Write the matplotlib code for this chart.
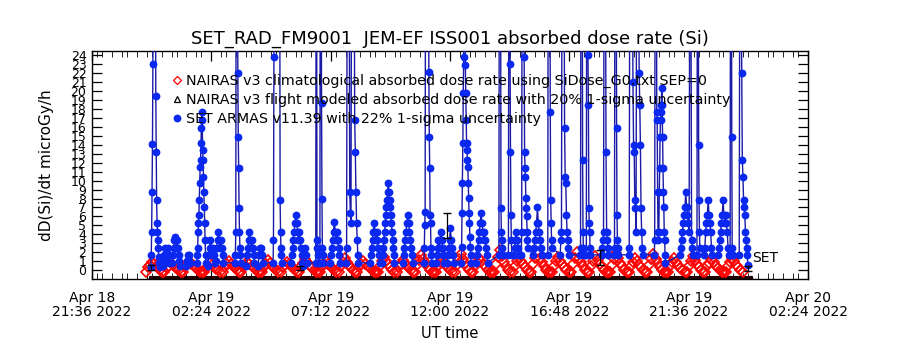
import numpy as np
import matplotlib
matplotlib.use("Agg")
import matplotlib.pyplot as plt
import matplotlib.dates as mdates
from matplotlib.lines import Line2D

T0 = np.datetime64("2022-04-18T21:36")

# x axis: tick times (minutes after T0) and labels
tick_min = [0, 288, 576, 864, 1152, 1440, 1728]
tick_labels = ["Apr 18\n21:36 2022", "Apr 19\n02:24 2022", "Apr 19\n07:12 2022",
               "Apr 19\n12:00 2022", "Apr 19\n16:48 2022", "Apr 19\n21:36 2022",
               "Apr 20\n02:24 2022"]

# NAIRAS climatological dose rate, 5-minute cadence starting at red_start
red_start = 130
red_dt = 5
red_vals = [
    -0.2, 0.3, 0.6, 0.9, 0.65, 0.4, 0.2, 0.0, -0.2,
    -0.2, 0.25, 0.5, 0.8, 0.55, 0.35, 0.15, 0.0, -0.2,
    -0.2, 0.3, 0.65, 1.0, 0.7, 0.45, 0.25, 0.0, -0.2, -0.2,
    -0.2, 0.25, 0.5, 0.8, 0.55, 0.35, 0.15, 0.0, -0.2,
    -0.2, 0.3, 0.65, 1.0, 0.7, 0.45, 0.2, 0.0, -0.2,
    -0.2, 0.3, 0.6, 0.9, 0.65, 0.4, 0.2, 0.0, -0.2, -0.2,
    -0.2, 0.35, 0.7, 1.1, 0.75, 0.45, 0.2, 0.0, -0.2,
    -0.2, 0.3, 0.6, 0.9, 0.65, 0.4, 0.2, 0.0, -0.2,
    -0.2, 0.4, 0.8, 1.2, 0.85, 0.5, 0.25, 0.0, -0.2, -0.2,
    -0.2, 0.3, 0.65, 1.0, 0.7, 0.45, 0.2, 0.0, -0.2,
    -0.2, 0.4, 0.85, 1.3, 0.9, 0.55, 0.25, 0.0, -0.2,
    -0.2, 0.3, 0.65, 1.0, 0.7, 0.45, 0.25, 0.0, -0.2, -0.2,
    -0.2, 0.5, 1.0, 1.5, 1.05, 0.65, 0.3, 0.0, -0.2,
    -0.2, 0.35, 0.7, 1.1, 0.75, 0.45, 0.2, 0.0, -0.2,
    -0.2, 0.55, 1.1, 1.7, 1.2, 0.75, 0.35, 0.05, -0.2, -0.2,
    -0.2, 0.4, 0.85, 1.3, 0.9, 0.55, 0.25, 0.0, -0.2,
    -0.2, 0.6, 1.2, 1.8, 1.25, 0.8, 0.35, 0.05, -0.2,
    -0.2, 0.45, 0.9, 1.4, 1.0, 0.6, 0.3, 0.0, -0.2, -0.2,
    -0.2, 0.7, 1.45, 2.2, 1.55, 0.95, 0.45, 0.05, -0.2,
    -0.2, 0.5, 1.0, 1.5, 1.05, 0.65, 0.3, 0.0, -0.2,
    -0.2, 0.65, 1.3, 2.0, 1.4, 0.85, 0.4, 0.05, -0.2, -0.2,
    -0.2, 0.5, 1.0, 1.5, 1.05, 0.65, 0.3, 0.0, -0.2,
    -0.2, 0.65, 1.3, 2.0, 1.4, 0.85, 0.4, 0.05, -0.2,
    -0.2, 0.5, 1.05, 1.6, 1.1, 0.7, 0.3, 0.0, -0.2, -0.2,
    -0.2, 0.6, 1.25, 1.9, 1.35, 0.8, 0.4, 0.05, -0.2,
    -0.2, 0.45, 0.9, 1.4, 1.0, 0.6, 0.3, 0.0, -0.2,
    -0.2, 0.6, 1.2, 1.8, 1.25, 0.8, 0.35, 0.05, -0.2, -0.2,
    -0.2, 0.4, 0.85, 1.3, 0.9, 0.55, 0.25, 0.0, -0.2,
    -0.2, 0.5, 1.05, 1.6, 1.1, 0.7, 0.3, 0.0, -0.2,
    -0.2, 0.4, 0.8, 1.2, 0.85, 0.5, 0.25, 0.0, -0.2, -0.2,
    -0.2, 0.45, 0.9, 1.4, 1.0, 0.6, 0.3, 0.0, -0.2,
]

# NAIRAS flight-modeled dose rate (sits on the bottom of the plot)
black_min = [140, 240, 340, 440, 540, 640, 740, 840, 940, 1040,
             1140, 1240, 1340, 1440, 1540, 1590]
black_vals = [-0.8, -0.8, -0.8, -0.8, -0.8, -0.8, -0.8, -0.8, -0.8, -0.8,
              -0.8, -0.8, -0.8, -0.8, -0.8, -0.8]

# SET ARMAS dose rate: bursts of samples, (start minute, cadence, values)
blue_seg_start = [142, 171, 193, 227, 253, 280, 299, 345, 372, 401,
                  437, 480, 510, 540, 550, 575, 613, 671, 700, 750,
                  801, 830, 857, 891, 927, 982, 1005, 1018, 1036, 1065,
                  1100, 1130, 1178, 1193, 1230, 1260, 1295, 1357, 1419, 1460,
                  1477, 1511, 1540, 1562]
blue_seg_dt = [1, 2, 2, 2, 1, 2, 2, 1, 2, 2,
               1, 2, 2, 1, 1, 2, 1.5, 2, 1.5, 2,
               1, 2, 2, 1, 2, 1, 1, 2, 1, 2,
               1, 1.5, 1, 1, 1.5, 1, 1.5, 1, 2, 1,
               2, 2, 1, 1.5]
blue_seg_vals = [
    [0.3, 1.7, 4.3, 8.7, 14.1, 23, 40, 40, 40, 40, 40, 40, 19.5, 13.2, 7.8, 5.3, 4.3, 3.4, 2.5, 1.5, 0.8, 0.3],
    [0.5, 1.0, 1.7, 2.5, 1.7, 1.0, 2.5, 1.7, 0.8],
    [0.8, 1.7, 2.5, 3.4, 3.7, 2.5, 3.4, 2.5, 1.7, 1.0, 0.5],
    [0.5, 1.0, 1.7, 1.0, 1.7, 0.8],
    [0.8, 1.7, 2.5, 4.3, 5.3, 6.2, 7.8, 9.7, 11.5, 12.3, 14.2, 15.9, 17.7, 16.8, 13.4, 12.3, 10.4, 8.7, 7.0, 5.3, 3.4, 1.7, 0.8],
    [0.5, 1.7, 2.5, 3.4, 2.5, 1.7, 2.5, 1.7, 0.8],
    [1.0, 2.5, 3.4, 4.3, 3.4, 2.5, 3.4, 2.5, 1.7, 0.8],
    [0.8, 1.7, 4.3, 40, 40, 40, 40, 22, 14.9, 11.4, 6.9, 4.3, 2.5, 1.7, 0.8],
    [0.5, 1.7, 2.5, 3.4, 4.3, 3.4, 2.5, 3.4, 2.5, 1.7, 0.8],
    [0.5, 1.7, 2.5, 1.7, 2.5, 1.7, 0.8],
    [0.8, 3.4, 23.8, 40, 40, 40, 40, 40, 40, 40, 40, 40, 40, 40, 40, 40, 40, 7.8, 4.3, 2.5, 1.7, 0.8],
    [0.8, 1.7, 2.5, 3.4, 4.3, 5.3, 6.2, 5.3, 4.3, 3.4, 4.3, 3.4, 2.5, 1.7, 0.8],
    [0.5, 1.7, 2.5, 1.7, 0.8],
    [0.8, 40, 40, 3.4, 2.5, 1.7, 0.8],
    [0.8, 40, 40, 40, 18.7, 8.0, 2.5, 1.7, 0.8],
    [0.8, 1.7, 2.5, 3.4, 4.3, 5.4, 4.3, 3.4, 4.3, 3.4, 2.5, 1.7, 0.8],
    [0.8, 2.5, 40, 40, 40, 40, 8.7, 6.4, 5.3, 40, 40, 40, 40, 40, 16.8, 13.2, 8.7, 5.3, 3.4, 1.7, 0.8],
    [0.8, 1.7, 2.5, 3.4, 4.3, 5.3, 4.3, 3.4, 4.3, 3.4, 2.5, 1.7, 0.8],
    [0.8, 1.7, 2.5, 3.4, 4.3, 5.3, 6.2, 7.0, 7.8, 8.7, 9.7, 8.7, 7.8, 7.0, 6.2, 5.3, 4.3, 3.4, 2.5, 1.7, 0.8],
    [0.8, 1.7, 2.5, 3.4, 4.3, 5.3, 6.2, 5.3, 4.3, 3.4, 2.5, 1.7, 0.8],
    [0.8, 2.5, 5.0, 6.5, 40, 40, 40, 40, 40, 40, 40, 40, 22.1, 14.9, 11.4, 6.2, 5.3, 2.5, 1.7, 0.8],
    [0.8, 1.7, 2.5, 3.4, 2.5, 3.4, 4.3, 3.4, 2.5, 1.7, 0.8],
    [0.8, 1.7, 2.5, 3.4, 4.7, 3.4, 2.5, 1.7, 0.8],
    [0.8, 2.6, 6.4, 9.7, 14.2, 19.8, 23.8, 40, 40, 40, 22.9, 19.8, 16.8, 14.2, 13.4, 12.3, 11.5, 9.7, 8.1, 6.4, 5.3, 3.7, 2.6, 1.7, 0.8],
    [0.8, 1.7, 2.5, 3.4, 4.3, 5.3, 6.4, 5.3, 4.3, 3.4, 4.3, 3.4, 2.5, 1.7, 0.8],
    [1.7, 40, 40, 40, 40, 6.9, 4.3, 3.4, 2.5, 1.7],
    [1.7, 40, 40, 40, 23, 13.2, 6.2, 3.4, 1.7],
    [1.7, 2.5, 3.4, 4.3, 3.4, 2.5, 1.7],
    [1.7, 4.3, 40, 40, 40, 40, 40, 23.8, 13.2, 11.4, 10.4, 8.1, 6.9, 6.0, 4.3, 3.4, 2.5],
    [1.7, 2.5, 3.4, 4.3, 5.3, 7.0, 5.3, 4.3, 3.4, 2.5, 1.7],
    [1.7, 40, 40, 40, 40, 40, 17.7, 7.8, 5.3, 3.4, 2.5],
    [1.7, 3.4, 4.3, 40, 40, 40, 40, 15.9, 10.4, 9.7, 6.2, 4.3, 3.4, 2.5, 1.7],
    [1.7, 2.5, 40, 40, 40, 40, 12.3, 4.3, 2.5, 1.7],
    [1.7, 40, 40, 40, 24, 18.5, 6.9, 5.3, 4.3, 2.5, 1.7],
    [1.7, 2.5, 3.4, 4.3, 40, 40, 40, 13.2, 4.3, 3.4, 2.5, 1.7],
    [1.7, 2.5, 40, 40, 40, 40, 15.9, 6.2, 3.4, 2.5, 1.7],
    [1.7, 2.5, 40, 40, 40, 40, 40, 21, 14, 13.2, 7.8, 6.9, 4.3, 40, 40, 40, 40, 22, 18.5, 14, 6.9, 4.3, 2.5, 1.7],
    [1.7, 3.4, 40, 40, 40, 40, 17.7, 16.8, 8.7, 4.3, 3.4, 4.3, 8.7, 11.4, 14.9, 16.8, 17.7, 18.5, 20.4, 18.5, 14.9, 11.4, 8.7, 7.0, 4.3, 3.4, 1.7, 0.8],
    [1.7, 2.5, 3.4, 4.3, 5.3, 6.2, 7.0, 8.7, 7.0, 6.2, 5.3, 4.3, 40, 40, 3.4, 2.5, 1.7],
    [1.7, 40, 40, 40, 14, 7.8, 4.3, 2.5],
    [1.7, 2.5, 4.3, 5.3, 6.2, 7.8, 6.2, 5.3, 4.3, 2.5, 1.7],
    [1.7, 2.5, 3.4, 4.3, 5.3, 6.2, 7.8, 6.2, 5.3, 6.2, 5.3, 4.3, 2.5, 1.7],
    [1.7, 40, 40, 40, 14.9, 2.5, 1.7],
    [1.7, 40, 40, 40, 22, 12.3, 10.4, 7.8, 7.0, 6.2, 4.3, 3.4, 2.5, 1.7, 0.6],
]

# occasional error bars drawn on the plot
err_min = [142, 502, 857, 1226, 1583]
err_vals = [0.3, 0.2, 5.0, 1.4, 0.2]
err_size = [0.3, 0.2, 1.4, 0.8, 0.3]


def to_time(minutes):
    sec = np.round(np.asarray(minutes, dtype=float) * 60).astype("int64")
    return T0 + sec.astype("timedelta64[s]")


red_min = red_start + red_dt * np.arange(len(red_vals))
blue_min, blue_vals = [], []
for s, dt, vals in zip(blue_seg_start, blue_seg_dt, blue_seg_vals):
    blue_min.extend(s + dt * np.arange(len(vals)))
    blue_vals.extend(vals)

fig = plt.figure(figsize=(9, 3.5), dpi=100)
ax = fig.add_axes([0.1022, 0.2029, 0.7956, 0.6514])

ax.plot(to_time(black_min), black_vals, color="#200000", lw=2.2,
        marker="^", ms=2, mfc="none", zorder=2)
ax.plot(to_time(red_min), red_vals, ls="none", marker="D", ms=5,
        mfc="none", mec="#ff0000", mew=1.2, zorder=3)
ax.plot(to_time(blue_min), blue_vals, color="#1a1aa6", lw=1.0, zorder=4)
ax.plot(to_time(blue_min), blue_vals, ls="none", marker="o", ms=4.6,
        color="#0a28f0", zorder=5)
ax.errorbar(to_time(err_min), err_vals, yerr=err_size, fmt="none",
            ecolor="black", elinewidth=0.9, capsize=3, zorder=6)

ax.text(to_time(1594), 1.3, "SET", fontsize=10, va="center", ha="left")

ax.set_xlim(to_time(0), to_time(1728))
ax.set_ylim(-1, 24.5)
ax.set_xticks(to_time(tick_min))
ax.set_xticklabels(tick_labels, fontsize=10, linespacing=0.95)
ax.xaxis.set_minor_locator(mdates.MinuteLocator(byminute=[0, 24, 48], interval=1))
ax.set_yticks(np.arange(0, 25))
ax.set_yticklabels([str(v) for v in range(25)], fontsize=9)
ax.tick_params(axis="both", which="major", direction="in", top=True, right=True,
               length=7, width=0.9)
ax.tick_params(axis="x", which="minor", direction="in", top=True, length=4)
ax.tick_params(axis="x", pad=9)
ax.tick_params(axis="y", pad=4)
for sp in ax.spines.values():
    sp.set_linewidth(1.0)

ax.set_xlabel("UT time", fontsize=10.5, labelpad=5)
ax.set_ylabel("dD(Si)/dt microGy/h", fontsize=11, labelpad=12)
ax.set_title("SET_RAD_FM9001  JEM-EF ISS001 absorbed dose rate (Si)",
             fontsize=13, pad=5)

handles = [
    Line2D([], [], ls="none", marker="D", ms=3.6, mfc="none", mec="#ff0000", mew=0.9),
    Line2D([], [], ls="none", marker="^", ms=4.5, mfc="none", mec="black", mew=0.9),
    Line2D([], [], ls="none", marker="o", ms=4.6, color="#0a28f0"),
]
labels = [
    "NAIRAS v3 climatological absorbed dose rate using SiDose_G0.txt SEP=0",
    "NAIRAS v3 flight modeled absorbed dose rate with 20% 1-sigma uncertainty",
    "SET ARMAS v11.39 with 22% 1-sigma uncertainty",
]
ax.legend(handles, labels, loc="upper left", bbox_to_anchor=(0.113, 0.898),
          frameon=False, fontsize=10.3, handlelength=0.6, handletextpad=0.3,
          labelspacing=0.32, borderpad=0, borderaxespad=0)

fig.savefig("out.png", dpi=100)
